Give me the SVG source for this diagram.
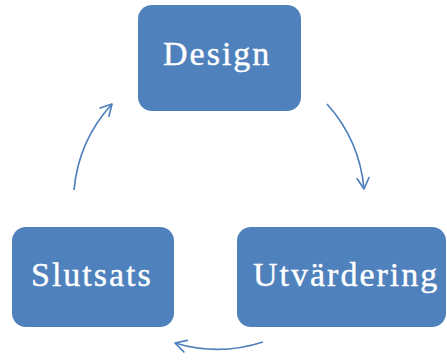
<svg xmlns="http://www.w3.org/2000/svg" width="447" height="362" viewBox="0 0 447 362">
  <style>
    .box { fill: #4F81BD; }
    .lbl { font-family: "Liberation Serif", "Times New Roman", serif; font-size: 34px; letter-spacing: 2px; fill: #FFFFFF; stroke: #FFFFFF; stroke-width: 0.4; }
    .arc { fill: none; stroke: #4F81BD; stroke-width: 1.7; marker-end: url(#head); }
  </style>
  <defs>
    <marker id="head" viewBox="0 0 13 14" refX="12" refY="7" markerWidth="13" markerHeight="14" markerUnits="userSpaceOnUse" orient="auto">
      <path d="M1,1 L12,7 L1,13" fill="none" stroke="#4F81BD" stroke-width="1.7" stroke-linecap="round" stroke-linejoin="round"/>
    </marker>
  </defs>
  <rect width="447" height="362" fill="#FFFFFF"/>
  <g id="connectors">
    <path class="arc" d="M327,104 A147,147 0 0 1 364,189"/>
    <path class="arc" d="M263,342 A147,147 0 0 1 175,343"/>
    <path class="arc" d="M74,190 A147,147 0 0 1 112,104"/>
  </g>
  <g id="design">
    <rect class="box" x="138" y="5" width="163" height="106" rx="14"/>
    <text class="lbl" x="163" y="65">Design</text>
  </g>
  <g id="utvardering">
    <rect class="box" x="237" y="227" width="209" height="100" rx="14"/>
    <text class="lbl" x="253" y="286">Utvärdering</text>
  </g>
  <g id="slutsats">
    <rect class="box" x="12" y="227" width="162" height="100" rx="14"/>
    <text class="lbl" x="31" y="286">Slutsats</text>
  </g>
</svg>
